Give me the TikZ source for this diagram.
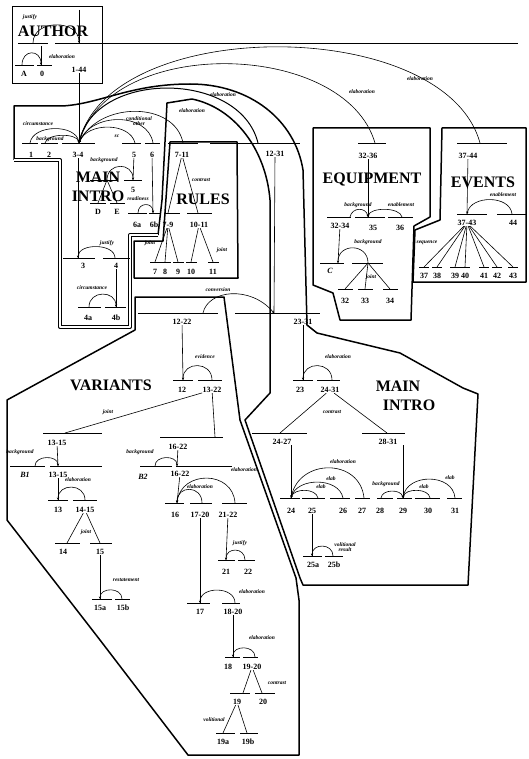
\documentclass[tikz,border=0pt]{standalone}
\usepackage{fontspec}
\setmainfont{Liberation Serif}
\usetikzlibrary{arrows.meta}

\begin{document}
\begin{tikzpicture}[x=1pt,y=-1pt,
  num/.style={font=\fontsize{8}{8}\selectfont\bfseries, inner sep=0.3pt},
  rel/.style={font=\fontsize{5.5}{5.5}\selectfont\bfseries\itshape, inner sep=0pt},
  ttl/.style={font=\fontsize{16}{16}\selectfont\bfseries, inner sep=0pt},
  spanln/.style={line width=0.6pt},
  relarc/.style={line width=0.6pt, -{Stealth[length=2.5pt,width=2.2pt]}},
  region/.style={line width=1.5pt, line join=round}]

  \fill[white] (0,0) rectangle (528,759);
  \useasboundingbox (0,0) rectangle (528,759);

  % Region outlines
  \draw[line width=1pt] (12,7) rectangle (102,84);
  \draw[region] (14,160) -- (14,106) -- (62,106) .. controls (100,104) and (130,84) .. (190,84)
    .. controls (250,84) and (295,120) .. (303,170) -- (307,325) -- (317,333) -- (400,353)
    -- (463,388) -- (478,394) -- (468,585) -- (303,585) -- (300,578) -- (245,420) -- (270,393)
    -- (270,200) .. controls (266,150) and (235,108) .. (192,99) -- (167,103) -- (162,200) -- (158,235);
  \draw[line width=1pt, double, double distance=2pt, line join=round] (158,235) -- (130,235) -- (130,327)
    -- (60,327) -- (60,160) -- (14,160);
  \draw[region] (170,142) -- (237,142) -- (238,278) -- (134,278) -- (134,241) -- (163,241) -- cycle;
  \draw[region] (313,128) -- (430,128) -- (430,217) -- (414,226) -- (411,320) -- (340,320)
    -- (333,293) -- (313,285) -- cycle;
  \draw[region] (442,128) -- (526,128) -- (526,282) -- (413,282) -- (415,230) -- (440,220) -- cycle;
  \draw[region] (135,297) -- (224,297) -- (240,420) -- (296,578) -- (299,600) -- (299,755)
    -- (188,755) -- (100,640) -- (7,520) -- (7,400) -- (135,330) -- cycle;

  % Titles
  \node[ttl] (tauthor) at (53,31) {AUTHOR};
  \node[ttl] (tmain) at (98,177) {MAIN};
  \node[ttl] (tintro) at (98,196) {INTRO};
  \node[ttl] (trules) at (203,199) {RULES};
  \node[ttl] (tequip) at (372,180) {EQUIPMENT};
  \node[ttl] (tevents) at (483,182) {EVENTS};
  \node[ttl] (tvar) at (111,385) {VARIANTS};
  \node[ttl] (tmainb) at (398,386) {MAIN};
  \node[ttl] (tintrob) at (409,405) {INTRO};

  % Author part
  \coordinate (root) at (79,10);
  \coordinate (c144) at (79,43);
  \coordinate (cA0) at (33,43);
  \draw[spanln] (root) -- (c144);
  \draw[spanln] (18,43) -- (48,43);
  \draw[spanln] (55,43) -- (518,43);
  \draw[relarc] (cA0) .. controls +(0,-24) and +(0,-24) .. (c144);
  \node[rel] (rjustA) at (30,17) {justify};
  \coordinate (cA0n) at (41,46);
  \coordinate (c0) at (41,65);
  \coordinate (cA) at (22,65);
  \draw[spanln] (cA0n) -- (c0);
  \draw[spanln] (15,65) -- (34,65);
  \draw[spanln] (37,65) -- (52,65);
  \draw[relarc] (cA) .. controls +(0,-16) and +(0,-16) .. (c0);
  \node[rel] (relabA) at (62,57) {elaboration};
  \node[num] (lA) at (24,74) {A};
  \node[num] (l0) at (42,74) {0};
  \node[num] (l144) at (79,70) {1-44};

  % Level of 1-44
  \coordinate (c34) at (79,143);
  \draw[spanln] (l144) -- (c34);
  \draw[spanln] (22,143) -- (38,143);
  \draw[spanln] (41,143) -- (58,143);
  \draw[spanln] (62,143) -- (95,143);
  \draw[spanln] (122,143) -- (141,143);
  \draw[spanln] (145,143) -- (160,143);
  \draw[spanln] (168,143) -- (198,143);
  \draw[spanln] (210,143) -- (300,143);
  \draw[spanln] (358,143) -- (386,143);
  \draw[spanln] (457,143) -- (507,143);
  \coordinate (c1) at (30,143);
  \coordinate (c2) at (45,143);
  \coordinate (c5) at (135,143);
  \coordinate (c6) at (153,143);
  \coordinate (c711) at (183,143);
  \coordinate (c1231) at (258,143);
  \coordinate (c3236) at (375,143);
  \coordinate (c3744) at (480,143);
  \draw[relarc] (c1) .. controls +(3,-19) and +(-3,-19) .. (c34);
  \draw[relarc] (c2) .. controls +(2,-10) and +(-2,-10) .. (c34);
  \draw[relarc] (c5) .. controls +(-5,-21) and +(8,-21) .. (c34);
  \draw[relarc] (c6) .. controls +(-5,-31) and +(12,-31) .. (c34);
  \draw[relarc] (c711) .. controls +(-8,-42) and +(20,-42) .. (c34);
  \draw[relarc, line width=1pt] (c1231) .. controls (240,70) and (95,70) .. (c34);
  \draw[relarc] (c3236) .. controls (345,40) and (110,35) .. (c34);
  \draw[relarc] (c3744) .. controls (445,15) and (110,15) .. (c34);
  \node[rel] (rcirc1) at (38,124) {circumstance};
  \node[rel] (rback2) at (50,139) {background};
  \node[rel] (rsc5) at (117,136) {sc};
  \node[rel, align=center] (rcond6) at (139,121) {conditional\\other};
  \node[rel] (relab711) at (192,111) {elaboration};
  \node[rel] (relab1231) at (223,95) {elaboration};
  \node[rel] (relab3236) at (362,92) {elaboration};
  \node[rel] (relab3744) at (420,79) {elaboration};
  \node[num] (l1) at (31,155) {1};
  \node[num] (l2) at (49,155) {2};
  \node[num] (l34) at (78,155) {3-4};
  \node[num] (l5) at (134,155) {5};
  \node[num] (l6) at (152,155) {6};
  \node[num] (l711) at (182,155) {7-11};
  \node[num] (l1231) at (275,154) {12-31};
  \node[num] (l3236) at (368,156) {32-36};
  \node[num] (l3744) at (468,156) {37-44};

  % Main intro: 3-4
  \coordinate (c3) at (78,258);
  \coordinate (c4) at (115,258);
  \draw[spanln] (l34) -- (c3);
  \draw[spanln] (63,258) -- (95,258);
  \draw[spanln] (103,258) -- (130,258);
  \draw[relarc] (c4) .. controls +(0,-15) and +(0,-15) .. (c3);
  \node[rel] (rjust3) at (107,243) {justify};
  \node[num] (l3) at (83,266) {3};
  \node[num] (l4) at (116,266) {4};
  \coordinate (c4a) at (89,307);
  \coordinate (c4b) at (116,307);
  \draw[spanln] (l4) -- (c4b);
  \draw[spanln] (78,307) -- (101,307);
  \draw[spanln] (105,307) -- (126,307);
  \draw[relarc] (c4a) .. controls +(0,-17) and +(0,-17) .. (c4b);
  \node[rel] (rcirc4) at (92,288) {circumstance};
  \node[num] (l4a) at (88,318) {4a};
  \node[num] (l4b) at (116,318) {4b};

  % Main intro: 5 and 6
  \coordinate (c5n) at (133,180);
  \coordinate (cDE) at (107,180);
  \draw[spanln] (l5) -- (c5n);
  \draw[spanln] (90,180) -- (118,180);
  \draw[spanln] (124,180) -- (142,180);
  \draw[relarc] (cDE) .. controls +(0,-18) and +(0,-18) .. (c5n);
  \node[rel] (rback5) at (104,160) {background};
  \node[num] (l5b) at (133,190) {5};
  \coordinate (cD) at (98,203);
  \coordinate (cE) at (117,203);
  \draw[spanln] (cDE) -- (cD);
  \draw[spanln] (cDE) -- (cE);
  \draw[spanln] (90,203) -- (106,203);
  \draw[spanln] (110,203) -- (125,203);
  \node[num] (lD) at (98,212) {D};
  \node[num] (lE) at (117,212) {E};
  \coordinate (c6a) at (138,213);
  \coordinate (c6b) at (153,213);
  \draw[spanln] (l6) -- (c6b);
  \draw[spanln] (128,213) -- (147,213);
  \draw[spanln] (149,213) -- (161,213);
  \draw[relarc] (c6a) .. controls +(0,-11) and +(0,-11) .. (c6b);
  \node[rel] (rread6) at (138,199) {readiness};
  \node[num] (l6a) at (137,225) {6a};
  \node[num] (l6b) at (154,225) {6b};

  % Rules
  \coordinate (c79) at (168,213);
  \coordinate (c1011) at (198,213);
  \draw[spanln] (l711) -- (c79);
  \draw[spanln] (l711) -- (c1011);
  \draw[spanln] (164,213) -- (180,213);
  \draw[spanln] (187,213) -- (212,213);
  \node[rel] (rcontr711) at (201,180) {contrast};
  \node[num] (l79) at (168,225) {7-9};
  \node[num] (l1011) at (199,225) {10-11};
  \foreach \x/\t/\n in {155/7/l79, 165/8/l79, 178/9/l79, 191/10/l1011, 213/11/l1011} {
    \coordinate (c\t) at (\x,262);
    \draw[spanln] (\n) -- (c\t);
    \draw[spanln] (\x-5,262) -- (\x+6,262);
    \node[num] (l\t) at (\x,272) {\t};
  }
  \node[rel] (rjoint79) at (150,243) {joint};
  \node[rel] (rjoint1011) at (222,250) {joint};

  % Equipment
  \coordinate (c3234) at (350,217);
  \coordinate (c35) at (368,217);
  \coordinate (c36) at (402,217);
  \draw[spanln] (l3236) -- (c35);
  \draw[spanln] (327,217) -- (351,217);
  \draw[spanln] (355,217) -- (385,217);
  \draw[spanln] (388,217) -- (413,217);
  \draw[relarc] (c3234) .. controls +(2,-10) and +(-2,-10) .. (c35);
  \draw[relarc] (c36) .. controls +(-2,-10) and +(2,-10) .. (c35);
  \node[rel] (rback35) at (358,205) {background};
  \node[rel] (renab35) at (401,205) {enablement};
  \node[num] (l3234) at (340,226) {32-34};
  \node[num] (l35) at (373,228) {35};
  \node[num] (l36) at (400,228) {36};
  \coordinate (cC) at (338,263);
  \coordinate (cjnt) at (368,263);
  \draw[spanln] (l3234) -- (cC);
  \draw[spanln] (320,263) -- (344,263);
  \draw[spanln] (352,263) -- (383,263);
  \draw[relarc] (cjnt) .. controls +(0,-20) and +(0,-20) .. (cC);
  \node[rel] (rback32) at (368,242) {background};
  \node[num, font=\fontsize{8}{8}\selectfont\bfseries\itshape] (lC) at (330,271) {C};
  \foreach \x/\t in {345/32, 365/33, 390/34} {
    \coordinate (c\t x) at (\x,289);
    \draw[spanln] (cjnt) -- (c\t x);
    \draw[spanln] (\x-7,289) -- (\x+8,289);
    \node[num] (l\t x) at (\x,301) {\t};
  }
  \node[rel] (rjoint32) at (371,277) {joint};

  % Events
  \coordinate (c3743) at (467,214);
  \coordinate (c44) at (512,214);
  \draw[spanln] (l3744) -- (c3743);
  \draw[spanln] (457,214) -- (487,214);
  \draw[spanln] (497,214) -- (526,214);
  \draw[relarc] (c44) .. controls +(-2,-19) and +(4,-19) .. (c3743);
  \node[rel] (renab44) at (503,195) {enablement};
  \node[num] (l3743) at (467,223) {37-43};
  \node[num] (l44) at (513,223) {44};
  \foreach \x/\t in {424/37, 437/38, 455/39, 465/40, 484/41, 497/42, 513/43} {
    \coordinate (c\t) at (\x,267);
    \draw[spanln] (l3743) -- (c\t);
    \draw[spanln] (\x-5,267) -- (\x+5,267);
    \node[num] (l\t) at (\x,276) {\t};
  }
  \node[rel] (rseq) at (427,243) {sequence};

  % 12-31 and conversion
  \coordinate (c1222) at (203,313);
  \coordinate (c2331) at (274,313);
  \draw[spanln] (l1231) -- (c2331);
  \draw[spanln] (138,313) -- (218,313);
  \draw[spanln] (235,313) -- (320,313);
  \draw[relarc] (c1222) .. controls (208,290) and (250,285) .. (c2331);
  \node[rel] (rconv) at (218,290) {conversion};
  \node[num] (l1222) at (182,322) {12-22};
  \node[num] (l2331) at (303,322) {23-31};

  % 12-22
  \coordinate (c12) at (183,380);
  \coordinate (c1322) at (212,380);
  \draw[spanln] (l1222) -- (c12);
  \draw[spanln] (173,380) -- (193,380);
  \draw[spanln] (198,380) -- (222,380);
  \draw[relarc] (c1322) .. controls +(0,-19) and +(0,-19) .. (c12);
  \node[rel] (revid) at (205,357) {evidence};
  \node[num] (l12) at (182,390) {12};
  \node[num] (l1322) at (212,390) {13-22};

  % 23-31
  \coordinate (c23) at (303,380);
  \coordinate (c2431) at (332,380);
  \draw[spanln] (l2331) -- (c23);
  \draw[spanln] (293,380) -- (313,380);
  \draw[spanln] (317,380) -- (340,380);
  \draw[relarc] (c2431) .. controls +(0,-19) and +(0,-19) .. (c23);
  \node[rel] (relab23) at (338,357) {elaboration};
  \node[num] (l23) at (300,390) {23};
  \node[num] (l2431) at (330,390) {24-31};
  \coordinate (c2427) at (280,433);
  \coordinate (c2831) at (387,433);
  \draw[spanln] (l2431) -- (c2427);
  \draw[spanln] (l2431) -- (c2831);
  \draw[spanln] (252,433) -- (307,433);
  \draw[spanln] (362,433) -- (405,433);
  \node[rel] (rcontr2431) at (332,412) {contrast};
  \node[num] (l2427) at (282,442) {24-27};
  \node[num] (l2831) at (388,442) {28-31};

  % 24-27
  \coordinate (c24) at (291,498);
  \coordinate (c25) at (318,498);
  \coordinate (c26) at (343,498);
  \coordinate (c27) at (364,498);
  \draw[spanln] (l2427.south -| c24) -- (c24);
  \draw[spanln] (280,498) -- (300,498);
  \draw[spanln] (302,498) -- (325,498);
  \draw[spanln] (330,498) -- (350,498);
  \draw[spanln] (355,498) -- (370,498);
  \draw[relarc] (c25) .. controls +(-2,-10) and +(3,-10) .. (c24);
  \draw[relarc] (c26) .. controls +(-4,-21) and +(6,-21) .. (c24);
  \draw[relarc] (c27) .. controls +(-4,-40) and +(8,-40) .. (c24);
  \node[rel] (relab25) at (321,487) {elab};
  \node[rel] (relab26) at (331,479) {elab};
  \node[rel] (relab27) at (343,462) {elaboration};
  \node[num] (l24) at (291,511) {24};
  \node[num] (l25) at (312,511) {25};
  \node[num] (l26) at (343,511) {26};
  \node[num] (l27) at (362,511) {27};

  % 28-31
  \coordinate (c28) at (381,498);
  \coordinate (c29) at (403,498);
  \coordinate (c30) at (430,498);
  \coordinate (c31) at (455,498);
  \draw[spanln] (l2831.south -| c29) -- (c29);
  \draw[spanln] (377,498) -- (393,498);
  \draw[spanln] (397,498) -- (412,498);
  \draw[spanln] (415,498) -- (440,498);
  \draw[spanln] (447,498) -- (462,498);
  \draw[relarc] (c28) .. controls +(1,-9) and +(-2,-9) .. (c29);
  \draw[relarc] (c30) .. controls +(-1,-10) and +(2,-10) .. (c29);
  \draw[relarc] (c31) .. controls +(-2,-25) and +(4,-25) .. (c29);
  \node[rel] (rback28) at (386,484) {background};
  \node[rel] (relab30) at (424,487) {elab};
  \node[rel] (relab31) at (450,478) {elab};
  \node[num] (l28) at (380,511) {28};
  \node[num] (l29) at (403,511) {29};
  \node[num] (l30) at (428,511) {30};
  \node[num] (l31) at (455,511) {31};

  % 25
  \coordinate (c25a) at (312,556);
  \coordinate (c25b) at (333,556);
  \draw[spanln] (l25) -- (c25a);
  \draw[spanln] (303,556) -- (322,556);
  \draw[spanln] (325,556) -- (343,556);
  \draw[relarc] (c25b) .. controls +(0,-13) and +(0,-13) .. (c25a);
  \node[rel, align=center] (rvol25) at (345,547) {volitional\\result};
  \node[num] (l25a) at (313,565) {25a};
  \node[num] (l25b) at (334,565) {25b};

  % Variants: 13-22
  \coordinate (c1315) at (65,433);
  \coordinate (c1622) at (215,437);
  \draw[spanln] (l1322) -- (c1315);
  \draw[spanln] (l1322) -- (c1622);
  \draw[spanln] (43,433) -- (102,433);
  \draw[spanln] (160,437) -- (223,437);
  \node[rel] (rjoint1322) at (108,412) {joint};
  \node[num] (l1315) at (57,443) {13-15};
  \node[num] (l1622) at (178,447) {16-22};

  % 13-15
  \coordinate (cB1) at (35,466);
  \coordinate (c1315b) at (58,466);
  \draw[spanln] (l1315) -- (c1315b);
  \draw[spanln] (10,466) -- (45,466);
  \draw[spanln] (50,466) -- (102,466);
  \draw[relarc] (cB1) .. controls +(0,-11) and +(0,-11) .. (c1315b);
  \node[rel] (rbackB1) at (20,452) {background};
  \node[num, font=\fontsize{8}{8}\selectfont\bfseries\itshape] (lB1) at (25,475) {B1};
  \node[num] (l1315b) at (58,475) {13-15};
  \coordinate (c13) at (58,500);
  \coordinate (c1415) at (85,500);
  \draw[spanln] (l1315b) -- (c13);
  \draw[spanln] (48,500) -- (68,500);
  \draw[spanln] (73,500) -- (97,500);
  \draw[relarc] (c1415) .. controls +(0,-17) and +(0,-17) .. (c13);
  \node[rel] (relab13) at (78,480) {elaboration};
  \node[num] (l13) at (58,510) {13};
  \node[num] (l1415) at (85,510) {14-15};
  \coordinate (c14) at (67,543);
  \coordinate (c15) at (100,543);
  \draw[spanln] (l1415) -- (c14);
  \draw[spanln] (l1415) -- (c15);
  \draw[spanln] (55,543) -- (80,543);
  \draw[spanln] (90,543) -- (112,543);
  \node[rel] (rjoint14) at (86,532) {joint};
  \node[num] (l14) at (63,552) {14};
  \node[num] (l15) at (100,552) {15};
  \coordinate (c15a) at (100,599);
  \coordinate (c15b) at (122,599);
  \draw[spanln] (l15) -- (c15a);
  \draw[spanln] (92,599) -- (112,599);
  \draw[spanln] (115,599) -- (130,599);
  \draw[relarc] (c15b) .. controls +(0,-12) and +(0,-12) .. (c15a);
  \node[rel] (rrest15) at (126,580) {restatement};
  \node[num] (l15a) at (100,608) {15a};
  \node[num] (l15b) at (123,608) {15b};

  % 16-22
  \coordinate (cB2) at (155,466);
  \coordinate (c1622b) at (177,466);
  \draw[spanln] (l1622) -- (c1622b);
  \draw[spanln] (140,466) -- (172,466);
  \draw[spanln] (176,466) -- (232,466);
  \draw[relarc] (cB2) .. controls +(0,-11) and +(0,-11) .. (c1622b);
  \node[rel] (rbackB2) at (140,452) {background};
  \node[num, font=\fontsize{8}{8}\selectfont\bfseries\itshape] (lB2) at (143,477) {B2};
  \node[num] (l1622b) at (180,474) {16-22};
  \coordinate (c16) at (177,503);
  \coordinate (c1720) at (202,503);
  \coordinate (c2122) at (235,503);
  \draw[spanln] (l1622b) -- (c16);
  \draw[spanln] (165,503) -- (184,503);
  \draw[spanln] (190,503) -- (212,503);
  \draw[spanln] (222,503) -- (247,503);
  \draw[relarc] (c1720) .. controls +(0,-18) and +(0,-18) .. (c16);
  \draw[relarc] (c2122) .. controls +(-2,-33) and +(4,-33) .. (c16);
  \node[rel] (relab1720) at (200,487) {elaboration};
  \node[rel] (relab2122) at (244,470) {elaboration};
  \node[num] (l16) at (175,515) {16};
  \node[num] (l1720) at (200,515) {17-20};
  \node[num] (l2122) at (228,515) {21-22};

  % 21-22
  \coordinate (c21) at (226,560);
  \coordinate (c22) at (245,560);
  \draw[spanln] (l2122) -- (c21);
  \draw[spanln] (218,560) -- (235,560);
  \draw[spanln] (238,560) -- (255,560);
  \draw[relarc] (c22) .. controls +(0,-13) and +(0,-13) .. (c21);
  \node[rel] (rjust21) at (240,543) {justify};
  \node[num] (l21) at (226,572) {21};
  \node[num] (l22) at (248,572) {22};

  % 17-20
  \coordinate (c17) at (200,603);
  \coordinate (c1820) at (235,603);
  \draw[spanln] (l1720) -- (c17);
  \draw[spanln] (187,603) -- (210,603);
  \draw[spanln] (222,603) -- (240,603);
  \draw[relarc] (c1820) .. controls +(0,-17) and +(0,-17) .. (c17);
  \node[rel] (relab17) at (252,592) {elaboration};
  \node[num] (l17) at (200,612) {17};
  \node[num] (l1820) at (233,612) {18-20};
  \coordinate (c18) at (233,657);
  \coordinate (c1920) at (255,657);
  \draw[spanln] (l1820) -- (c18);
  \draw[spanln] (225,657) -- (240,657);
  \draw[spanln] (243,657) -- (258,657);
  \draw[relarc] (c1920) .. controls +(0,-12) and +(0,-12) .. (c18);
  \node[rel] (relab18) at (262,638) {elaboration};
  \node[num] (l18) at (228,667) {18};
  \node[num] (l1920) at (252,667) {19-20};
  \coordinate (c19) at (243,693);
  \coordinate (c20) at (262,693);
  \draw[spanln] (l1920) -- (c19);
  \draw[spanln] (l1920) -- (c20);
  \draw[spanln] (230,693) -- (250,693);
  \draw[spanln] (255,693) -- (275,693);
  \node[rel] (rcontr19) at (277,683) {contrast};
  \node[num] (l19) at (237,702) {19};
  \node[num] (l20) at (263,702) {20};
  \coordinate (c19a) at (223,733);
  \coordinate (c19b) at (247,733);
  \draw[spanln] (l19) -- (c19a);
  \draw[spanln] (l19) -- (c19b);
  \draw[spanln] (216,733) -- (235,733);
  \draw[spanln] (240,733) -- (258,733);
  \node[rel] (rvol19) at (214,720) {volitional};
  \node[num] (l19a) at (223,742) {19a};
  \node[num] (l19b) at (248,742) {19b};
\end{tikzpicture}
\end{document}
